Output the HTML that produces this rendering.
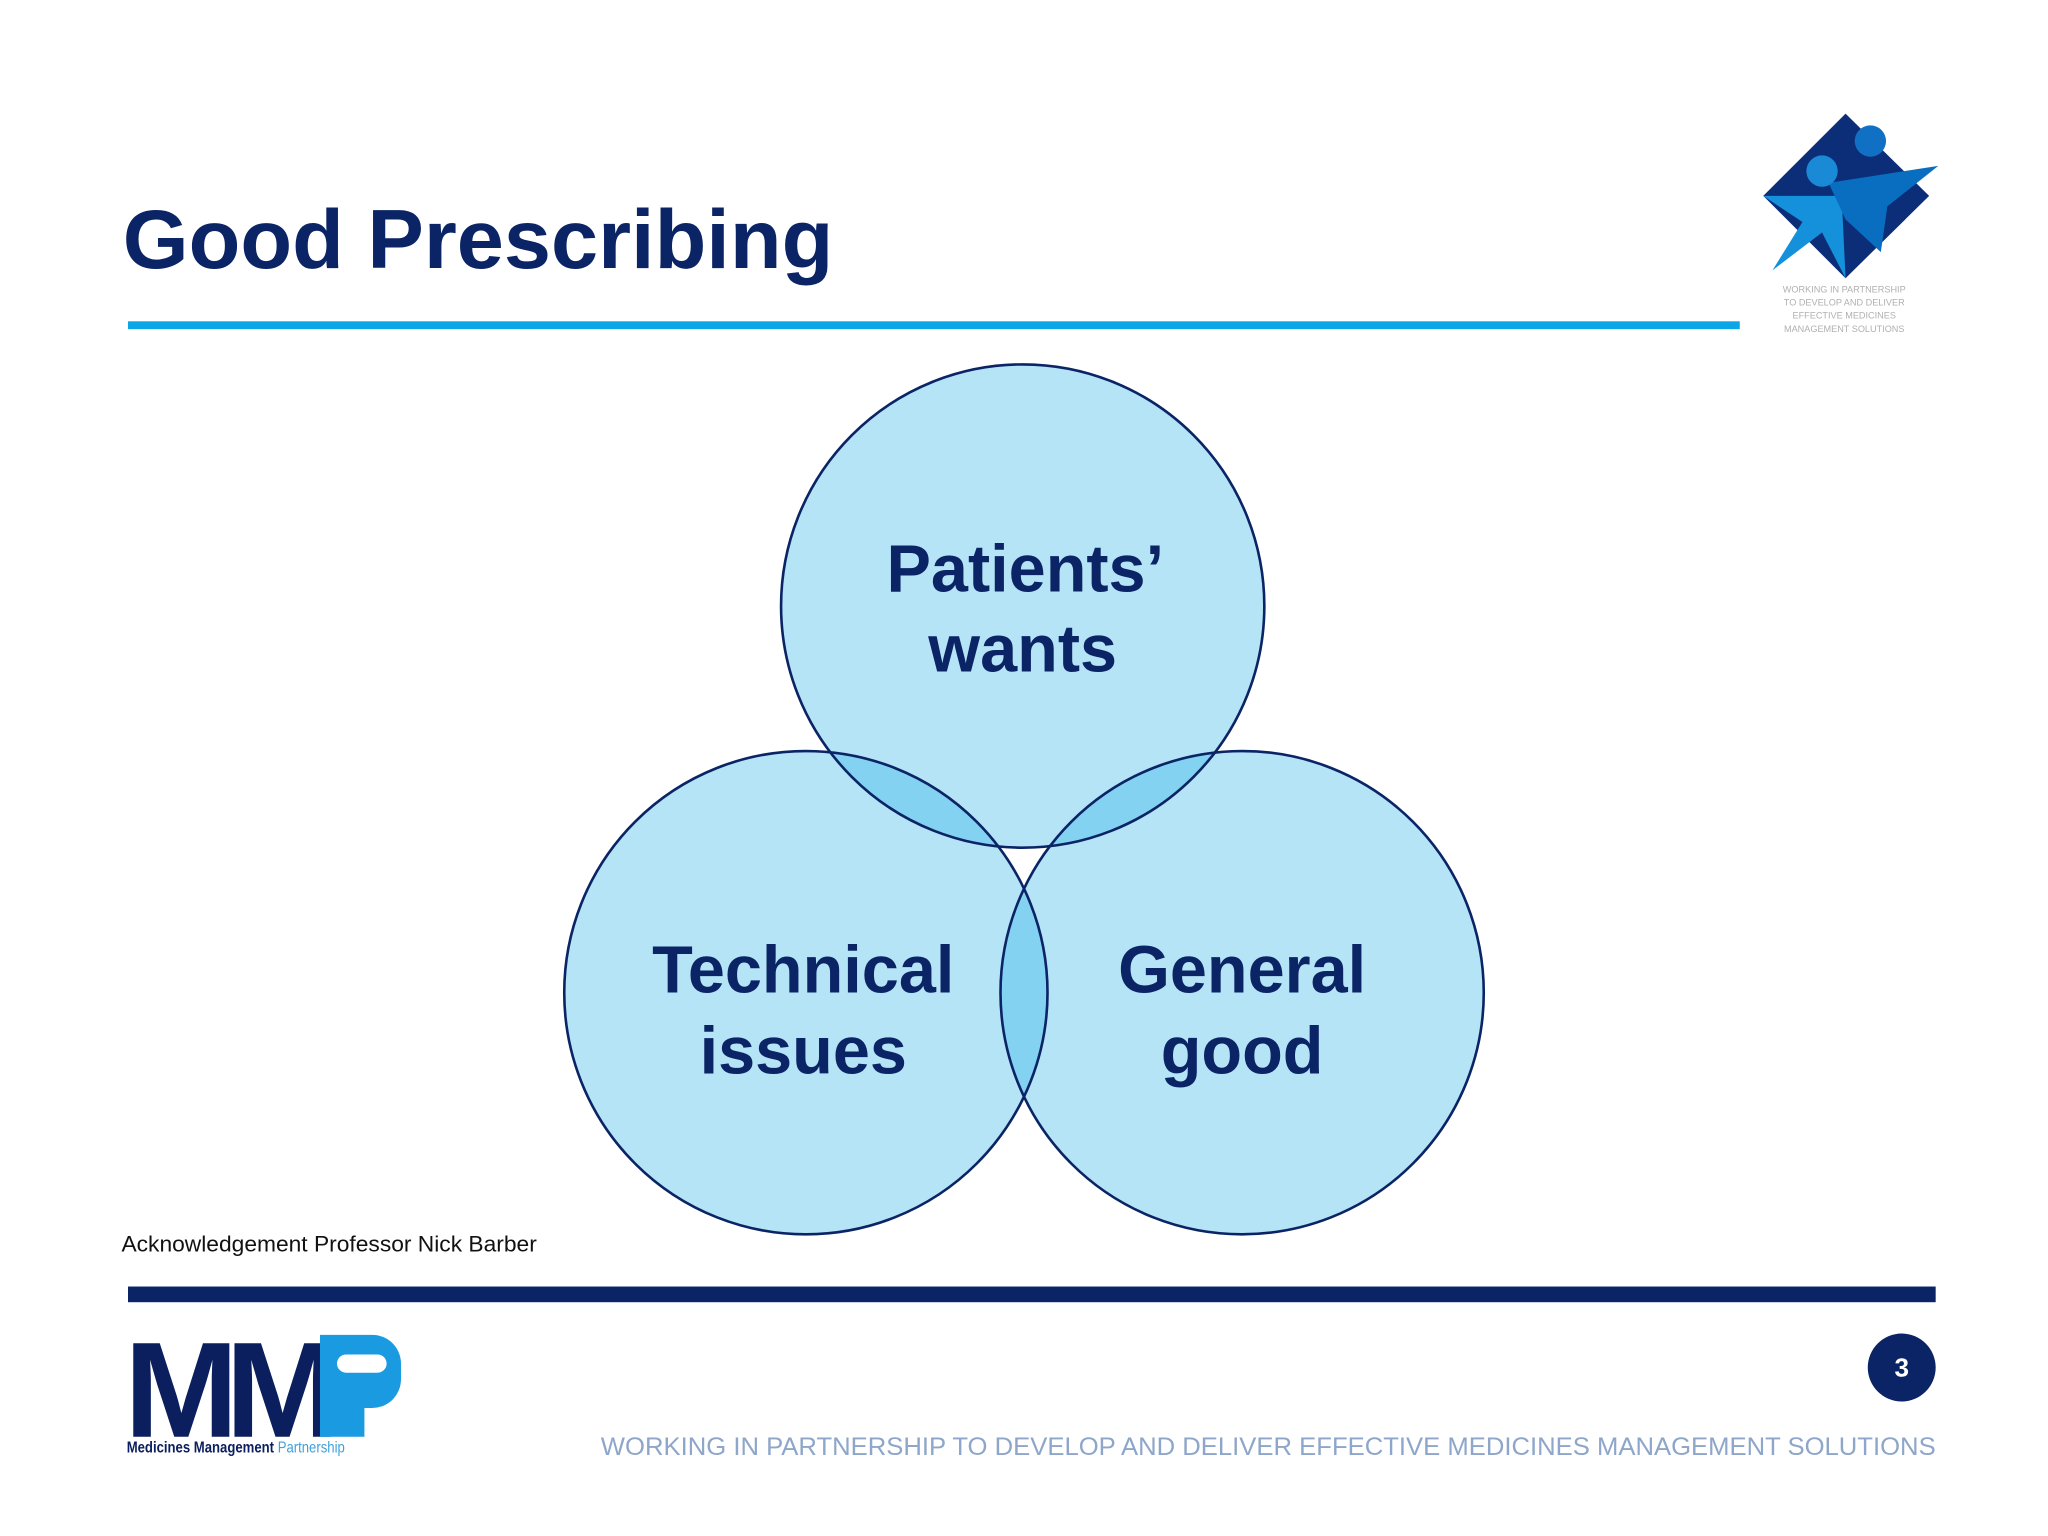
<!DOCTYPE html>
<html><head><meta charset="utf-8"><style>
html,body{margin:0;padding:0;background:#fff;}
svg{display:block;font-family:"Liberation Sans",Arial,sans-serif;}
</style></head><body>
<svg width="2048" height="1536" viewBox="0 0 1568 1176">
<defs>
<clipPath id="cT"><circle cx="783" cy="464" r="185"/></clipPath>
<clipPath id="cL"><circle cx="617" cy="760" r="185"/></clipPath>
<clipPath id="cR"><circle cx="951" cy="760" r="185"/></clipPath>
</defs>
<text x="94" y="205" font-size="64" font-weight="bold" fill="#0b2466" textLength="544" lengthAdjust="spacingAndGlyphs">Good Prescribing</text>
<rect x="98" y="246" width="1234" height="6" fill="#0aa6e6"/>

<g>
<polygon points="1413,87 1477,150 1413,213 1350,150" fill="#0c2e78"/>
<polygon points="1350,150 1410,150 1413,213 1395,178 1357,207 1380,170" fill="#1591dc"/>
<polygon points="1400,140 1484,127 1445,158 1440,193 1413,168" fill="#0a6ec0"/>
<circle cx="1395" cy="131" r="12" fill="#1a8ad6"/>
<circle cx="1432" cy="108" r="12" fill="#1070c4"/>
<text x="1412" y="224" font-size="7" fill="#b0b0b0" text-anchor="middle">WORKING IN PARTNERSHIP</text>
<text x="1412" y="234" font-size="7" fill="#b0b0b0" text-anchor="middle">TO DEVELOP AND DELIVER</text>
<text x="1412" y="244" font-size="7" fill="#b0b0b0" text-anchor="middle">EFFECTIVE MEDICINES</text>
<text x="1412" y="254" font-size="7" fill="#b0b0b0" text-anchor="middle">MANAGEMENT SOLUTIONS</text>
</g>

<g>
<circle cx="783" cy="464" r="185" fill="#b5e4f7"/>
<circle cx="617" cy="760" r="185" fill="#b5e4f7"/>
<circle cx="951" cy="760" r="185" fill="#b5e4f7"/>
<g clip-path="url(#cT)"><circle cx="617" cy="760" r="185" fill="#84d2f1"/><circle cx="951" cy="760" r="185" fill="#84d2f1"/></g>
<g clip-path="url(#cL)"><circle cx="951" cy="760" r="185" fill="#84d2f1"/></g>
<circle cx="783" cy="464" r="185" fill="none" stroke="#0b2466" stroke-width="2"/>
<circle cx="617" cy="760" r="185" fill="none" stroke="#0b2466" stroke-width="2"/>
<circle cx="951" cy="760" r="185" fill="none" stroke="#0b2466" stroke-width="2"/>
<g font-size="51" font-weight="bold" fill="#0b2466" text-anchor="middle">
<text x="785" y="453">Patients’</text>
<text x="783" y="514">wants</text>
<text x="615" y="760">Technical</text>
<text x="615" y="822">issues</text>
<text x="951" y="760">General</text>
<text x="951" y="822">good</text>
</g>
</g>

<text x="93" y="958" font-size="17" fill="#111" textLength="318" lengthAdjust="spacingAndGlyphs">Acknowledgement Professor Nick Barber</text>
<rect x="98" y="985" width="1384" height="12" fill="#0b2466"/>

<g>
<text x="95" y="1100" font-size="104" font-weight="bold" fill="#0b1f5e" letter-spacing="-10" textLength="155" lengthAdjust="spacingAndGlyphs">MM</text>
<path d="M245,1022 h40 a22,22 0 0 1 22,22 v12 a22,22 0 0 1 -22,22 h-6 v22 h-34 z" fill="#1a9ae0"/>
<rect x="258" y="1037" width="38" height="14" rx="7" fill="#fff"/>
<text x="97" y="1112" font-size="12" font-weight="bold" fill="#0b1f5e" textLength="167" lengthAdjust="spacingAndGlyphs">Medicines Management <tspan font-weight="normal" fill="#3fa0dc">Partnership</tspan></text>
</g>

<circle cx="1456" cy="1047" r="26" fill="#0b2466"/>
<text x="1456" y="1054" font-size="20" font-weight="bold" fill="#fff" text-anchor="middle">3</text>
<text x="460" y="1114" font-size="19" fill="#8ea6c9" textLength="1022" lengthAdjust="spacingAndGlyphs">WORKING IN PARTNERSHIP TO DEVELOP AND DELIVER EFFECTIVE MEDICINES MANAGEMENT SOLUTIONS</text>
</svg>
</body></html>
